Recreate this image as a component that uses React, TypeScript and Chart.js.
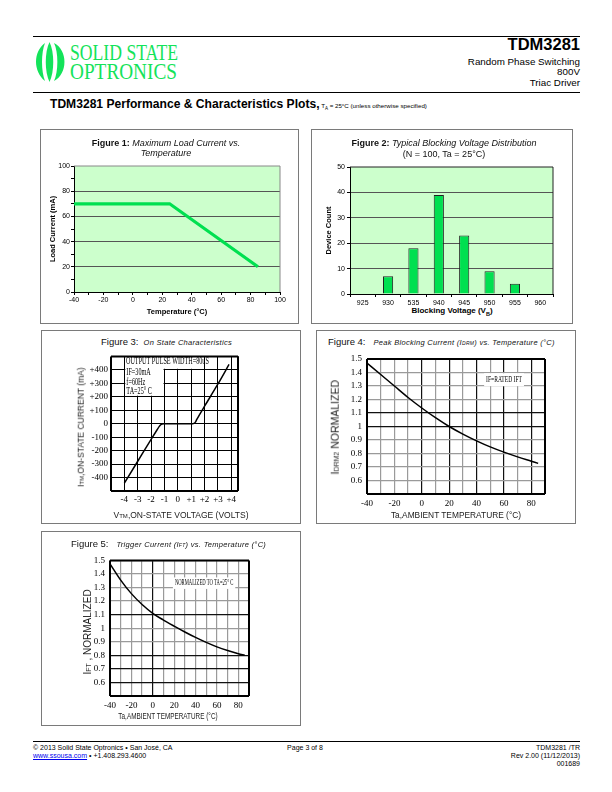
import React, { useEffect, useRef } from 'react';
import { Chart, registerables } from 'chart.js';

Chart.register(...registerables);

// ---------------- DATA ----------------
// Figure 1: Maximum load current vs temperature
const fig1Temperature = [-40, 25, 85];
const fig1LoadCurrent = [70, 70, 20];
const fig1XTicks = [-40, -30, -20, -10, 0, 10, 20, 30, 40, 50, 60, 70, 80, 90, 100];
const fig1YTicks = [0, 10, 20, 30, 40, 50, 60, 70, 80, 90, 100];

// Figure 2: Blocking voltage distribution
const fig2Voltages = ['925', '930', '535', '940', '945', '950', '955', '960'];
const fig2Counts = [0, 7, 18, 39, 23, 9, 4, 0];
const fig2YTicks = [0, 10, 20, 30, 40, 50];

// Figure 3: On-state characteristics
const fig3Voltage = [-4.0, -3.0, -2.0, -1.55, -1.4, -1.28, -1.18, -1.05, 0.0, 1.1, 1.2, 1.3, 1.4, 1.55, 2.0, 3.0, 3.83];
const fig3Current = [-442, -279, -116, -45, -22, -8, -2, 0, 0, 0, 2, 10, 28, 55, 130, 295, 440];
const fig3XTicks = [-5, -4, -3, -2, -1, 0, 1, 2, 3, 4, 4.5];
const fig3YTicks = [-500, -400, -300, -200, -100, 0, 100, 200, 300, 400, 500];
const fig3Notes = ['OUTPUT PULSE WIDTH=80uS', 'IF=30mA', 'f=60Hz', 'TA=25\u00b0 C'];

// Figure 4: Peak blocking current vs temperature
const fig4Temperature = [-40, -30, -20, -10, 0, 10, 20, 30, 40, 50, 60, 70, 80, 85];
const fig4Idrm = [1.47, 1.385, 1.3, 1.215, 1.137, 1.065, 1.0, 0.944, 0.894, 0.849, 0.81, 0.775, 0.743, 0.727];
const fig4XTicks = [-40, -30, -20, -10, 0, 10, 20, 30, 40, 50, 60, 70, 80, 90];
const fig4YTicks = [0.5, 0.6, 0.7, 0.8, 0.9, 1, 1.1, 1.2, 1.3, 1.4, 1.5];
const fig4Note = 'IF=RATED IFT';

// Figure 5: Trigger current vs temperature
const fig5Temperature = [-40, -30, -20, -10, 0, 10, 20, 30, 40, 50, 60, 70, 80, 86];
const fig5Ift = [1.475, 1.355, 1.255, 1.175, 1.11, 1.06, 1.015, 0.972, 0.932, 0.895, 0.862, 0.835, 0.812, 0.8];
const fig5XTicks = [-40, -30, -20, -10, 0, 10, 20, 30, 40, 50, 60, 70, 80, 90];
const fig5YTicks = [0.5, 0.6, 0.7, 0.8, 0.9, 1, 1.1, 1.2, 1.3, 1.4, 1.5];
const fig5Note = 'NORMALIZED TO TA=25\u00b0 C';

// ---------------- STYLE ----------------
const GREEN = '#00e050';
const LOGO_GREEN = '#14e35a';
const SANS = 'Liberation Sans, Arial, sans-serif';
const SERIF = 'Liberation Serif, Times New Roman, serif';

type R = { l: number; t: number; r: number; b: number };

function place(canvas: R, plot: R) {
  return {
    padding: { left: 0, top: plot.t - canvas.t, right: canvas.r - plot.r, bottom: 0 },
    yW: plot.l - canvas.l,
    xH: canvas.b - plot.b,
  };
}

const setTicks = (vals: number[]) => (s: any) => {
  s.ticks = vals.map((value) => ({ value }));
};

function framePlugin(color: string, width: number, sides = 'tlbr', hook = 'afterDatasetsDraw') {
  return {
    id: 'frame',
    [hook](chart: any) {
      const { ctx, chartArea: a } = chart;
      ctx.save();
      ctx.strokeStyle = color;
      ctx.lineWidth = width;
      ctx.beginPath();
      if (sides.includes('t')) { ctx.moveTo(a.left, a.top); ctx.lineTo(a.right, a.top); }
      if (sides.includes('r')) { ctx.moveTo(a.right, a.top); ctx.lineTo(a.right, a.bottom); }
      if (sides.includes('b')) { ctx.moveTo(a.left, a.bottom); ctx.lineTo(a.right, a.bottom); }
      if (sides.includes('l')) { ctx.moveTo(a.left, a.top); ctx.lineTo(a.left, a.bottom); }
      ctx.stroke();
      ctx.restore();
    },
  };
}

function bgPlugin(color: string) {
  return {
    id: 'bg',
    beforeDraw(chart: any) {
      const { ctx, chartArea: a } = chart;
      ctx.save();
      ctx.fillStyle = color;
      ctx.fillRect(a.left, a.top, a.right - a.left, a.bottom - a.top);
      ctx.restore();
    },
  };
}

type NoteSpec = {
  masks: number[][];
  texts: { text: string; x: number; y: number }[];
  size: number;
  condense: number;
  boxPad?: number;
};

function notesPlugin(spec: NoteSpec) {
  return {
    id: 'notes',
    beforeDatasetsDraw(chart: any) {
      const { ctx } = chart;
      const xs = chart.scales.x;
      const ys = chart.scales.y;
      ctx.save();
      ctx.fillStyle = '#fff';
      for (const [x0, y0, x1, y1] of spec.masks) {
        const a = xs.getPixelForValue(x0);
        const b = xs.getPixelForValue(x1);
        const c = ys.getPixelForValue(y1);
        const d = ys.getPixelForValue(y0);
        ctx.fillRect(a, c, b - a, d - c);
      }
      ctx.font = `${spec.size}px ${SERIF}`;
      ctx.textBaseline = 'middle';
      ctx.textAlign = 'left';
      for (const t of spec.texts) {
        const px = xs.getPixelForValue(t.x);
        const py = ys.getPixelForValue(t.y);
        const w = ctx.measureText(t.text).width * spec.condense;
        if (spec.boxPad != null) {
          const p = spec.boxPad;
          ctx.fillStyle = '#fff';
          ctx.fillRect(px - p, py - spec.size / 2 - p, w + 2 * p, spec.size + 2 * p);
        }
        ctx.save();
        ctx.translate(px, py);
        ctx.scale(spec.condense, 1);
        ctx.fillStyle = '#000';
        ctx.fillText(t.text, 0, 0);
        ctx.restore();
      }
      ctx.restore();
    },
  };
}

const baseOptions = (padding: any) => ({
  animation: false,
  responsive: false,
  maintainAspectRatio: false,
  devicePixelRatio: 1,
  layout: { padding },
  plugins: { legend: { display: false }, tooltip: { enabled: false }, title: { display: false } },
});

// ---------------- CHART CONFIGS ----------------
const fig1Canvas: R = { l: 41, t: 150, r: 298, b: 323 };
const fig1Plot: R = { l: 74, t: 166, r: 280, b: 292 };

function fig1Config() {
  const p = place(fig1Canvas, fig1Plot);
  return {
    type: 'line',
    data: {
      datasets: [
        {
          data: fig1Temperature.map((x, i) => ({ x, y: fig1LoadCurrent[i] })),
          borderColor: GREEN,
          borderWidth: 3.2,
          pointRadius: 0,
          tension: 0,
        },
      ],
    },
    options: {
      ...baseOptions(p.padding),
      scales: {
        x: {
          type: 'linear',
          min: -40,
          max: 100,
          afterBuildTicks: setTicks(fig1XTicks),
          afterFit: (s: any) => { s.height = p.xH; },
          grid: { drawOnChartArea: false, drawTicks: true, tickLength: 3, tickColor: '#000' },
          border: { color: '#000', width: 1 },
          ticks: {
            autoSkip: false, maxRotation: 0, padding: 1, color: '#000',
            font: { size: 7, family: SANS },
            callback: (v: any) => (v % 20 === 0 ? String(v) : ''),
          },
          title: {
            display: true, text: 'Temperature (\u00b0C)', color: '#000',
            font: { size: 7.5, weight: 'bold', family: SANS }, padding: { top: 0, bottom: 7 },
          },
        },
        y: {
          type: 'linear',
          min: 0,
          max: 100,
          afterBuildTicks: setTicks(fig1YTicks),
          afterFit: (s: any) => { s.width = p.yW; },
          grid: {
            drawTicks: true, tickLength: 3, tickColor: '#000',
            color: (c: any) => (c.tick && c.tick.value % 20 === 0 && c.tick.value > 0 && c.tick.value < 100 ? '#555' : 'rgba(0,0,0,0)'),
          },
          border: { color: '#000', width: 1 },
          ticks: {
            autoSkip: false, padding: 1, color: '#000',
            font: { size: 7, family: SANS },
            callback: (v: any) => (v % 20 === 0 ? String(v) : ''),
          },
          title: {
            display: true, text: 'Load Current (mA)', color: '#000',
            font: { size: 7.5, weight: 'bold', family: SANS }, padding: { top: 7.5, bottom: 0 },
          },
        },
      },
    },
    plugins: [bgPlugin('#ccffcc'), framePlugin('#888', 1, 'tr', 'beforeDatasetsDraw')],
  };
}

const fig2Canvas: R = { l: 312, t: 150, r: 572, b: 306 };
const fig2Plot: R = { l: 350, t: 167, r: 553, b: 294 };

function fig2Config() {
  const p = place(fig2Canvas, fig2Plot);
  return {
    type: 'bar',
    data: {
      labels: fig2Voltages,
      datasets: [
        {
          data: fig2Counts,
          backgroundColor: GREEN,
          borderColor: '#222',
          borderWidth: 1,
          barPercentage: 0.4,
          categoryPercentage: 1,
        },
      ],
    },
    options: {
      ...baseOptions(p.padding),
      scales: {
        x: {
          type: 'category',
          afterFit: (s: any) => { s.height = p.xH; },
          grid: { offset: true, drawOnChartArea: false, drawTicks: true, tickLength: 3, tickColor: '#000' },
          border: { color: '#000', width: 1 },
          ticks: { autoSkip: false, maxRotation: 0, padding: 2, color: '#000', font: { size: 7, family: SANS } },
        },
        y: {
          type: 'linear',
          min: 0,
          max: 50,
          afterBuildTicks: setTicks(fig2YTicks),
          afterFit: (s: any) => { s.width = p.yW; },
          grid: {
            drawTicks: true, tickLength: 3, tickColor: '#000',
            color: (c: any) => (c.tick && c.tick.value > 0 && c.tick.value < 50 ? '#555' : 'rgba(0,0,0,0)'),
          },
          border: { color: '#000', width: 1 },
          ticks: { autoSkip: false, padding: 2, color: '#000', font: { size: 7, family: SANS } },
          title: {
            display: true, text: 'Device Count', color: '#000',
            font: { size: 7.5, weight: 'bold', family: SANS }, padding: { top: 12.5, bottom: 0 },
          },
        },
      },
    },
    plugins: [bgPlugin('#ccffcc'), framePlugin('#222', 1, 'tr', 'beforeDatasetsDraw')],
  };
}

const fig3Canvas: R = { l: 42, t: 348, r: 300, b: 508 };
const fig3Plot: R = { l: 111, t: 355, r: 238, b: 491 };

function fig3Config() {
  const p = place(fig3Canvas, fig3Plot);
  return {
    type: 'line',
    data: {
      datasets: [
        {
          data: fig3Voltage.map((x, i) => ({ x, y: fig3Current[i] })),
          borderColor: '#000',
          borderWidth: 1.5,
          pointRadius: 0,
          cubicInterpolationMode: 'monotone',
        },
      ],
    },
    options: {
      ...baseOptions(p.padding),
      scales: {
        x: {
          type: 'linear',
          min: -5,
          max: 4.5,
          afterBuildTicks: setTicks(fig3XTicks),
          afterFit: (s: any) => { s.height = p.xH; },
          grid: { drawTicks: false, color: '#000', lineWidth: 1 },
          border: { display: false },
          ticks: {
            autoSkip: false, maxRotation: 0, padding: 3, color: '#000',
            font: { size: 9, family: SERIF },
            callback: (v: any) => (v === -5 || v === 4.5 ? '' : v > 0 ? '+' + v : String(v)),
          },
        },
        y: {
          type: 'linear',
          min: -500,
          max: 500,
          afterBuildTicks: setTicks(fig3YTicks),
          afterFit: (s: any) => { s.width = p.yW; },
          grid: { drawTicks: false, color: '#000', lineWidth: 1 },
          border: { display: false },
          ticks: {
            autoSkip: false, padding: 3, color: '#000',
            font: { size: 9, family: SERIF },
            callback: (v: any) => (Math.abs(v) === 500 ? '' : v > 0 ? '+' + v : String(v)),
          },
        },
      },
    },
    plugins: [
      notesPlugin({
        masks: [
          [-3.93, 408, 1.93, 496],
          [-3.93, 208, -1.07, 420],
        ],
        texts: [
          { text: fig3Notes[0], x: -3.88, y: 466 },
          { text: fig3Notes[1], x: -3.85, y: 382 },
          { text: fig3Notes[2], x: -3.85, y: 310 },
          { text: fig3Notes[3], x: -3.85, y: 245 },
        ],
        size: 11,
        condense: 0.56,
      }),
      framePlugin('#000', 2),
    ],
  };
}

function normGridColor(dark: number[]) {
  return (c: any) => {
    const v = c.tick ? Math.round(c.tick.value * 100) / 100 : NaN;
    return dark.includes(v) ? '#111' : '#9a9a9a';
  };
}

const fig4Canvas: R = { l: 317, t: 348, r: 575, b: 510 };
const fig4Plot: R = { l: 367, t: 359, r: 545, b: 494 };

function fig4Config() {
  const p = place(fig4Canvas, fig4Plot);
  return {
    type: 'line',
    data: {
      datasets: [
        {
          data: fig4Temperature.map((x, i) => ({ x, y: fig4Idrm[i] })),
          borderColor: '#000',
          borderWidth: 1.5,
          pointRadius: 0,
          cubicInterpolationMode: 'monotone',
        },
      ],
    },
    options: {
      ...baseOptions(p.padding),
      scales: {
        x: {
          type: 'linear',
          min: -40,
          max: 90,
          afterBuildTicks: setTicks(fig4XTicks),
          afterFit: (s: any) => { s.height = p.xH; },
          grid: { drawTicks: false, color: normGridColor([0, 20, 40, 60, 80]), lineWidth: 1.2 },
          border: { display: false },
          ticks: {
            autoSkip: false, maxRotation: 0, padding: 4, color: '#000',
            font: { size: 9, family: SERIF },
            callback: (v: any) => (v % 20 === 0 && v !== 90 ? String(v) : ''),
          },
        },
        y: {
          type: 'linear',
          min: 0.5,
          max: 1.5,
          afterBuildTicks: setTicks(fig4YTicks),
          afterFit: (s: any) => { s.width = p.yW; },
          grid: { drawTicks: false, color: normGridColor([1.1, 1.0]), lineWidth: 1.2 },
          border: { display: false },
          ticks: {
            autoSkip: false, padding: 5, color: '#000',
            font: { size: 9, family: SERIF },
            callback: (v: any) => (v === 0.5 ? '' : String(v)),
          },
        },
      },
    },
    plugins: [
      notesPlugin({ masks: [], texts: [{ text: fig4Note, x: 47, y: 1.347 }], size: 9, condense: 0.62, boxPad: 2 }),
      framePlugin('#000', 2),
    ],
  };
}

const fig5Canvas: R = { l: 42, t: 550, r: 300, b: 711 };
const fig5Plot: R = { l: 110, t: 559, r: 249, b: 696 };

function fig5Config() {
  const p = place(fig5Canvas, fig5Plot);
  return {
    type: 'line',
    data: {
      datasets: [
        {
          data: fig5Temperature.map((x, i) => ({ x, y: fig5Ift[i] })),
          borderColor: '#000',
          borderWidth: 1.5,
          pointRadius: 0,
          cubicInterpolationMode: 'monotone',
        },
      ],
    },
    options: {
      ...baseOptions(p.padding),
      scales: {
        x: {
          type: 'linear',
          min: -40,
          max: 90,
          afterBuildTicks: setTicks(fig5XTicks),
          afterFit: (s: any) => { s.height = p.xH; },
          grid: { drawTicks: false, color: normGridColor([0]), lineWidth: 1.2 },
          border: { display: false },
          ticks: {
            autoSkip: false, maxRotation: 0, padding: 4, color: '#000',
            font: { size: 9, family: SERIF },
            callback: (v: any) => (v % 20 === 0 && v !== 90 ? String(v) : ''),
          },
        },
        y: {
          type: 'linear',
          min: 0.5,
          max: 1.5,
          afterBuildTicks: setTicks(fig5YTicks),
          afterFit: (s: any) => { s.width = p.yW; },
          grid: { drawTicks: false, color: normGridColor([1.1, 0.8, 0.7, 0.6]), lineWidth: 1.2 },
          border: { display: false },
          ticks: {
            autoSkip: false, padding: 5, color: '#000',
            font: { size: 9, family: SERIF },
            callback: (v: any) => (v === 0.5 ? '' : String(v)),
          },
        },
      },
    },
    plugins: [
      notesPlugin({ masks: [], texts: [{ text: fig5Note, x: 20.7, y: 1.332 }], size: 7.5, condense: 0.62, boxPad: 2 }),
      framePlugin('#000', 2),
    ],
  };
}

// ---------------- COMPONENTS ----------------
function ChartCanvas({ rect, make }: { rect: R; make: () => any }) {
  const ref = useRef<HTMLCanvasElement>(null);
  useEffect(() => {
    const chart = new Chart(ref.current as HTMLCanvasElement, make());
    return () => chart.destroy();
  }, []);
  const w = rect.r - rect.l;
  const h = rect.b - rect.t;
  return (
    <canvas
      ref={ref}
      width={w}
      height={h}
      style={{ position: 'absolute', left: rect.l, top: rect.t, width: w, height: h }}
    />
  );
}

const abs = (s: React.CSSProperties): React.CSSProperties => ({ position: 'absolute', ...s });

function Box({ l, t, r, b }: R) {
  return (
    <div style={abs({ left: l, top: t, width: r - l, height: b - t, border: '1px solid #7a7a7a', boxSizing: 'border-box' })} />
  );
}

function VText({ cx, cy, size, children, scaleX = 1, color = '#222' }: any) {
  return (
    <div
      style={abs({
        left: cx - 100, top: cy - size / 2, width: 200, height: size, lineHeight: `${size}px`,
        fontSize: size, textAlign: 'center', whiteSpace: 'nowrap', color,
        transform: `rotate(-90deg) scaleX(${scaleX})`, fontFamily: SANS,
      })}
    >
      {children}
    </div>
  );
}

function HText({ cx, cy, size, children, scaleX = 1, color = '#222', weight = 'normal' }: any) {
  return (
    <div
      style={abs({
        left: cx - 150, top: cy - size / 2, width: 300, height: size, lineHeight: `${size}px`,
        fontSize: size, textAlign: 'center', whiteSpace: 'nowrap', color, fontWeight: weight,
        transform: `scaleX(${scaleX})`, fontFamily: SANS,
      })}
    >
      {children}
    </div>
  );
}

const small = (t: string, size: number) => <span style={{ fontSize: size }}>{t}</span>;

function Logo() {
  return (
    <svg style={abs({ left: 35, top: 40 })} width={150} height={44} viewBox="0 0 150 44">
      <path d="M10 3 C-2 12, -2 31, 10 41 C6 31, 6 13, 10 3 Z" fill={LOGO_GREEN} />
      <path d="M14.5 2 C19.5 12, 19.5 32, 14.5 42 C9.5 32, 9.5 12, 14.5 2 Z" fill={LOGO_GREEN} />
      <path d="M19 3 C33 10, 33 34, 19 41 C23.5 32, 23.5 12, 19 3 Z" fill={LOGO_GREEN} />
      <text x={35} y={20} fontFamily={SERIF} fontSize={23} fill={LOGO_GREEN} textLength={108} lengthAdjust="spacingAndGlyphs">
        SOLID STATE
      </text>
      <text x={35} y={39} fontFamily={SERIF} fontSize={23} fill={LOGO_GREEN} textLength={107} lengthAdjust="spacingAndGlyphs">
        OPTRONICS
      </text>
    </svg>
  );
}

export default function App() {
  return (
    <div style={abs({ left: 0, top: 0, width: 612, height: 792, background: '#fff', fontFamily: SANS, color: '#000', overflow: 'hidden' })}>
      {/* Header */}
      <div style={abs({ left: 33, top: 36, width: 547, height: 0, borderTop: '1px solid #000' })} />
      <Logo />
      <div style={abs({ left: 380, top: 36, width: 200, textAlign: 'right', fontSize: 16.5, fontWeight: 'bold', lineHeight: '17px' })}>TDM3281</div>
      <div style={abs({ left: 380, top: 56.5, width: 200, textAlign: 'right', fontSize: 9.8, lineHeight: '10.5px' })}>
        Random Phase Switching
        <br />
        800V
        <br />
        Triac Driver
      </div>
      <div style={abs({ left: 33, top: 92, width: 547, height: 0, borderTop: '1px solid #000' })} />
      <div style={abs({ left: 50, top: 96, whiteSpace: 'nowrap', lineHeight: '13px' })}>
        <span style={{ fontSize: 12.1, fontWeight: 'bold' }}>TDM3281 Performance &amp; Characteristics Plots,</span>
        <span style={{ fontSize: 6.2 }}>
          {' '}T<sub style={{ fontSize: 4.5 }}>A</sub> = 25°C (unless otherwise specified)
        </span>
      </div>

      {/* Figure boxes */}
      <Box l={40} t={129} r={299} b={324} />
      <Box l={311} t={129} r={573} b={324} />
      <Box l={41} t={330} r={301} b={524} />
      <Box l={316} t={330} r={576} b={524} />
      <Box l={41} t={531} r={301} b={726} />

      {/* Charts */}
      <ChartCanvas rect={fig1Canvas} make={fig1Config} />
      <ChartCanvas rect={fig2Canvas} make={fig2Config} />
      <ChartCanvas rect={fig3Canvas} make={fig3Config} />
      <ChartCanvas rect={fig4Canvas} make={fig4Config} />
      <ChartCanvas rect={fig5Canvas} make={fig5Config} />

      {/* Figure 1 title */}
      <div style={abs({ left: 66, top: 138, width: 200, textAlign: 'center', fontSize: 9, lineHeight: '10px', color: '#111' })}>
        <b>Figure 1:</b> <i>Maximum Load Current vs.</i>
        <br />
        <i>Temperature</i>
      </div>

      {/* Figure 2 title */}
      <div style={abs({ left: 294, top: 138, width: 300, textAlign: 'center', fontSize: 9, lineHeight: '11px', color: '#111' })}>
        <b>Figure 2:</b> <i>Typical Blocking Voltage Distribution</i>
        <br />
        (N = 100, Ta = 25°C)
      </div>
      <HText cx={452} cy={311} size={8} weight="bold" color="#000">
        Blocking Voltage (V<sub style={{ fontSize: 5.5 }}>B</sub>)
      </HText>

      {/* Figure 3 */}
      <div style={abs({ left: 101, top: 335, whiteSpace: 'nowrap', lineHeight: '10px', color: '#111' })}>
        <span style={{ fontSize: 9.5 }}>Figure 3:</span>
        <span style={{ fontSize: 7.5, fontStyle: 'italic', letterSpacing: 0.3, marginLeft: 5 }}>On State Characteristics</span>
      </div>
      <VText cx={81} cy={427} size={8.5}>
        I{small('TM', 6)},ON-STATE CURRENT (mA)
      </VText>
      <HText cx={181} cy={515} size={8.5}>
        V{small('TM', 6)},ON-STATE VOLTAGE (VOLTS)
      </HText>

      {/* Figure 4 */}
      <div style={abs({ left: 328, top: 335, whiteSpace: 'nowrap', lineHeight: '10px', color: '#111' })}>
        <span style={{ fontSize: 9.5 }}>Figure 4:</span>
        <span style={{ fontSize: 7.5, fontStyle: 'italic', letterSpacing: 0.3, marginLeft: 8 }}>
          Peak Blocking Current (I{small('DRM', 5)}) vs. Temperature (°C)
        </span>
      </div>
      <VText cx={335} cy={427} size={10.5}>
        I{small('DRM2', 7)} NORMALIZED
      </VText>
      <HText cx={456} cy={515} size={9.5} scaleX={0.88}>
        Ta,AMBIENT TEMPERATURE (°C)
      </HText>

      {/* Figure 5 */}
      <div style={abs({ left: 71, top: 537, whiteSpace: 'nowrap', lineHeight: '10px', color: '#111' })}>
        <span style={{ fontSize: 9.5 }}>Figure 5:</span>
        <span style={{ fontSize: 7.5, fontStyle: 'italic', letterSpacing: 0.3, marginLeft: 8 }}>
          Trigger Current (I{small('FT', 5)}) vs. Temperature (°C)
        </span>
      </div>
      <VText cx={88} cy={632} size={10}>
        I{small('FT', 7)} , NORMALIZED
      </VText>
      <HText cx={168} cy={716} size={8.5} scaleX={0.75}>
        Ta,AMBIENT TEMPERATURE (°C)
      </HText>

      {/* Footer */}
      <div style={abs({ left: 33, top: 741, width: 547, height: 0, borderTop: '1px solid #000' })} />
      <div style={abs({ left: 33, top: 744, fontSize: 7, lineHeight: '8px', whiteSpace: 'nowrap' })}>
        © 2013 Solid State Optronics • San José, CA
        <br />
        <span style={{ color: '#0000ee', textDecoration: 'underline' }}>www.ssousa.com</span> • +1.408.293.4600
      </div>
      <div style={abs({ left: 255, top: 744, width: 100, textAlign: 'center', fontSize: 7, lineHeight: '8px' })}>Page 3 of 8</div>
      <div style={abs({ left: 380, top: 744, width: 200, textAlign: 'right', fontSize: 7, lineHeight: '8px' })}>
        TDM3281 /TR
        <br />
        Rev 2.00 (11/12/2013)
        <br />
        001689
      </div>
    </div>
  );
}
